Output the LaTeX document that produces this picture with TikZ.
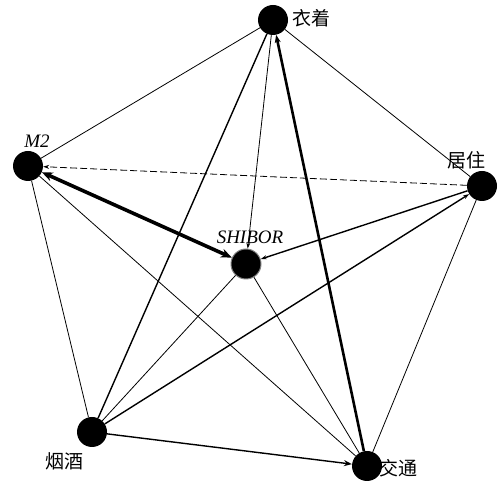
\documentclass[tikz,border=0pt]{standalone}
\usepackage{fontspec}
\setmainfont{Liberation Serif}
\newfontfamily\cjk{Noto Sans CJK SC}
\usetikzlibrary{arrows.meta}
\begin{document}
\begin{tikzpicture}[x=1pt,y=1pt,
  vtx/.style={circle,fill=black,minimum size=30pt,inner sep=0pt},
  lbl/.style={font=\cjk\fontsize{19}{19}\selectfont,inner sep=0pt},
  elbl/.style={font=\itshape\fontsize{19}{19}\selectfont,inner sep=0pt},
  thinl/.style={line width=0.8pt},
  medl/.style={line width=1.4pt},
  thickl/.style={line width=2.6pt},
  vthickl/.style={line width=3.6pt},
  tip/.style={-{Stealth[length=8pt,width=6pt]}},
  smalltip/.style={-{Stealth[length=6pt,width=4pt]}}]
\useasboundingbox (0,0) rectangle (500,486);
\node[vtx] (yz) at (273,466) {};
\node[vtx] (m2) at (28,320) {};
\node[vtx] (jz) at (482,300) {};
\node[vtx,draw=gray,line width=1pt] (sh) at (246,222) {};
\node[vtx] (yj) at (92,54) {};
\node[vtx] (jt) at (367,20) {};
\node[lbl] (lyz) at (311,468) {衣着};
\node[elbl] (lm2) at (37,345) {M2};
\node[lbl] (ljz) at (466,326) {居住};
\node[elbl] (lsh) at (250,249) {SHIBOR};
\node[lbl] (lyj) at (64,25) {烟酒};
\node[lbl] (ljt) at (398,18) {交通};
\draw[thinl] (yz) -- (m2);
\draw[thinl] (yz) -- (jz);
\draw[thinl,smalltip] (yz) -- (sh);
\draw[medl] (yz) -- (yj);
\draw[thickl,tip] (jt) -- (yz);
\draw[vthickl,{Stealth[length=11pt,width=9pt]}-{Stealth[length=11pt,width=9pt]}] (m2) -- (sh);
\draw[thinl,dashed,dash pattern=on 7pt off 3pt,smalltip] (jz) -- (m2);
\draw[thinl] (m2) -- (yj);
\draw[thinl] (m2) -- (jt);
\draw[medl,smalltip] (jz) -- (sh);
\draw[medl,smalltip] (yj) -- (jz);
\draw[thinl] (jz) -- (jt);
\draw[thinl] (sh) -- (yj);
\draw[thinl] (sh) -- (jt);
\draw[medl,tip] (yj) -- (jt);
\end{tikzpicture}
\end{document}
